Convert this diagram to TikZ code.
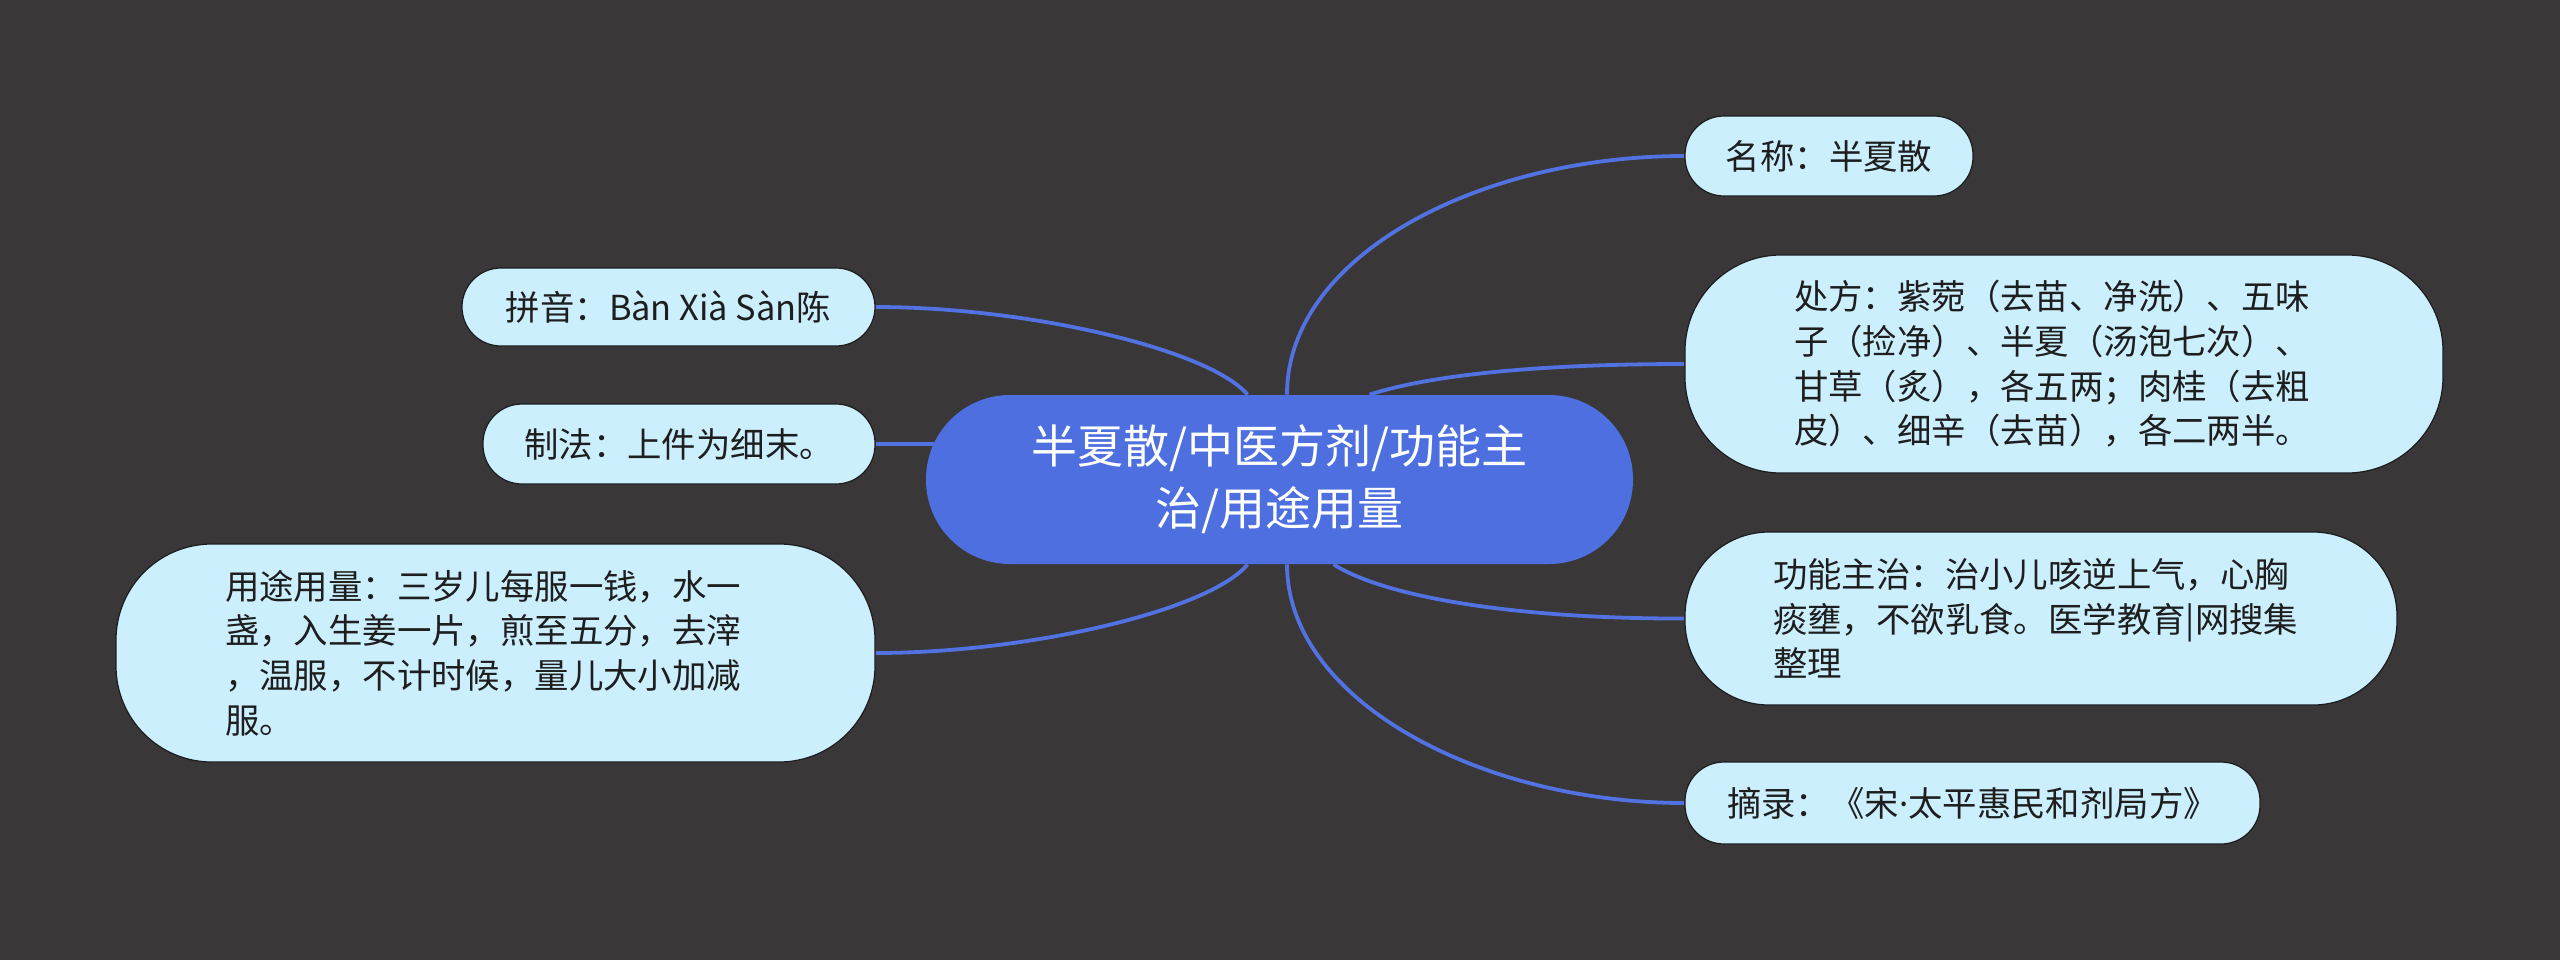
\documentclass[tikz,border=0pt]{standalone}
\usepackage{fontspec}
\setmainfont{Noto Sans CJK SC}
\newfontfamily\latinfont{Noto Sans}
\usetikzlibrary{calc}

\definecolor{bgdark}{RGB}{57,55,56}
\definecolor{hubblue}{RGB}{77,111,224}
\definecolor{linkblue}{RGB}{82,114,226}
\definecolor{leafblue}{RGB}{204,239,254}
\definecolor{leafedge}{RGB}{28,28,30}
\definecolor{leaftext}{RGB}{30,30,30}

\pgfdeclarelayer{backdrop}
\pgfdeclarelayer{bg}
\pgfsetlayers{backdrop,bg,main}

\begin{document}
\begin{tikzpicture}[x=0.5pt, y=-0.5pt,
  hub/.style={fill=hubblue, text=white, rounded corners=42pt, inner sep=0pt,
    minimum width=353.5pt, minimum height=84.5pt, align=center,
    font=\fontsize{23}{31}\selectfont},
  leaf/.style={fill=leafblue, draw=leafedge, line width=0.6pt, text=leaftext,
    rounded corners=48pt, inner sep=0pt, align=left,
    font=\fontsize{17.2}{22.3}\selectfont},
  block/.style={leaf, inner xsep=54.5pt, text width=270pt, minimum height=109pt},
  pill/.style={leaf, rounded corners=19.5pt},
  link/.style={draw=linkblue, line width=1.9pt}]

  % 背景
  \begin{pgfonlayer}{backdrop}
    \fill[bgdark] (0,0) rectangle (2560,960);
  \end{pgfonlayer}

  % 中心主题
  \node[hub] (hub) at (1279.5,479.5) {半夏散/中医方剂/功能主\\治/用途用量};

  % 右侧分支
  \node[pill, minimum width=144pt, minimum height=40pt] (name) at (1829,156) {名称：半夏散};
  \node[block] (recipe) at (2064,364)
    {处方：紫菀（去苗、净洗）、五味\\子（捡净）、半夏（汤泡七次）、\\甘草（炙），各五两；肉桂（去粗\\皮）、细辛（去苗），各二两半。};
  \node[block, rounded corners=42pt, inner xsep=44pt, text width=268pt, minimum height=86.5pt] (effect) at (2041,618.5)
    {功能主治：治小儿咳逆上气，心胸\\痰壅，不欲乳食。医学教育|网搜集\\整理};
  \node[pill, minimum width=287.5pt, minimum height=41pt] (source) at (1972.5,803)
    {摘录：《宋{\latinfont ·}太平惠民和剂局方》};

  % 左侧分支
  \node[pill, minimum width=206.5pt, minimum height=39pt] (pinyin) at (668.5,307)
    {拼音：Bàn Xià Sàn陈};
  \node[pill, minimum width=196pt, minimum height=40pt] (method) at (679,444)
    {制法：上件为细末。};
  \node[block, text width=270.5pt] (usage) at (495.5,653)
    {用途用量：三岁儿每服一钱，水一\\盏，入生姜一片，煎至五分，去滓\\，温服，不计时候，量儿大小加减\\服。};

  % 连线
  \begin{pgfonlayer}{bg}
    \draw[link] ([xshift=3.75pt]hub.north) .. controls (1287,255) and (1480,156) .. (name.west);
    \draw[link] ([xshift=45pt]hub.north) .. controls (1440,372) and (1560,364) .. (recipe.west);
    \draw[link] ([xshift=27pt]hub.south) .. controls (1390,600) and (1530,619) .. (effect.west);
    \draw[link] ([xshift=3.75pt]hub.south) .. controls (1287,700) and (1480,803) .. (source.west);
    \draw[link] ([xshift=-16pt]hub.north) .. controls (1210,350) and (1030,307) .. (pinyin.east);
    \draw[link] (method.east) -- (method.east -| hub.west) -- ++(15,0);
    \draw[link] ([xshift=-16pt]hub.south) .. controls (1210,610) and (1030,653) .. (usage.east);
  \end{pgfonlayer}
\end{tikzpicture}
\end{document}
